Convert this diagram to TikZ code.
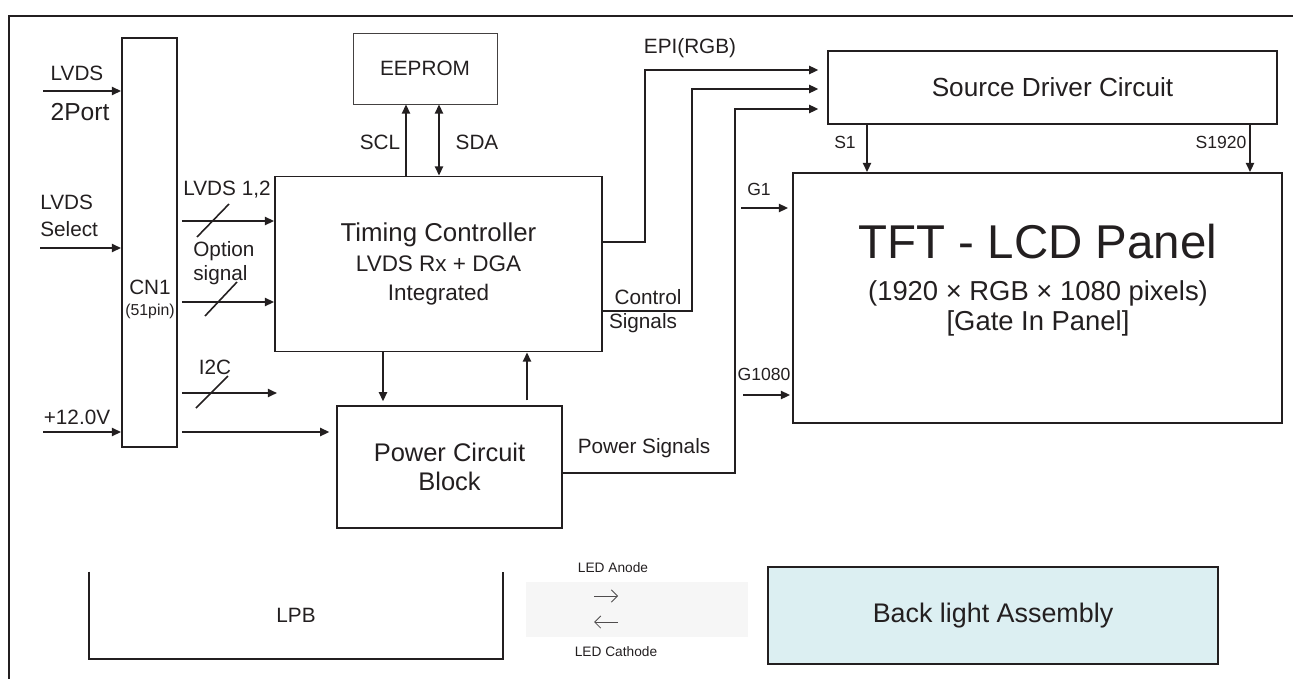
\documentclass[tikz,border=0pt]{standalone}
\usepackage{fontspec}
\setmainfont{Liberation Sans}
\usetikzlibrary{arrows.meta,positioning}
\definecolor{inkgray}{RGB}{35,31,32}
\definecolor{lightcyan}{RGB}{220,239,242}
\definecolor{ledgray}{RGB}{246,246,246}

\begin{document}
\begin{tikzpicture}[
    x=0.02cm, y=-0.02cm,
    sig/.style={-{Triangle[length=5.2pt,width=4.6pt]}, line width=1.1pt, draw=inkgray},
    sigboth/.style={{Triangle[length=5.2pt,width=4.6pt]}-{Triangle[length=5.2pt,width=4.6pt]}, line width=1.1pt, draw=inkgray},
    block/.style={draw=inkgray, line width=1.1pt, inner sep=0pt},
    midblock/.style={draw=inkgray, line width=0.8pt, inner sep=0pt},
    thinblock/.style={draw=inkgray!85, line width=0.5pt, inner sep=0pt},
    tag/.style={font=\fontsize{11.8}{14}\selectfont, text=inkgray, inner sep=0pt, align=center},
    smalltxt/.style={font=\fontsize{10}{12}\selectfont, text=inkgray, inner sep=0pt},
    ledtxt/.style={font=\fontsize{7.8}{9}\selectfont, text=inkgray, inner sep=0pt},
    slash/.style={line width=0.9pt, draw=inkgray},
    ledarrow/.style={-{Straight Barb[length=3.5pt,width=7pt]}, line width=0.5pt, draw=inkgray!80},
    outline/.style={line width=1.6pt, draw=inkgray},
    >=Stealth
]
\useasboundingbox (0,0) rectangle (1293,679);
\draw[outline] (1293,16) -- (9,16) -- (9,679);

\node[block, minimum width=1.1cm, minimum height=8.18cm] (cn1) at (149.5,242.5) {};
\node[tag] (cn1txt) at (150,299) {CN1\\[-2pt]{\fontsize{9}{10}\selectfont (51pin)}};

\node[thinblock, tag, minimum width=2.88cm, minimum height=1.42cm] (eeprom) at (425,68.5) {EEPROM};
\node[block, minimum width=6.54cm, minimum height=3.5cm, align=center, text=inkgray,
      font=\fontsize{12.8}{17}\selectfont] (tcon) at (438.5,264)
      {{\fontsize{14.7}{17}\selectfont Timing Controller}\\LVDS Rx + DGA\\Integrated};
\node[midblock, minimum width=4.5cm, minimum height=2.44cm, align=center, text=inkgray,
      font=\fontsize{14.5}{16.5}\selectfont] (power) at (449.5,467) {Power Circuit\\Block};
\node[midblock, minimum width=8.98cm, minimum height=1.46cm, text=inkgray,
      font=\fontsize{14.9}{17}\selectfont] (source) at (1052.5,87.5) {Source Driver Circuit};
\node[block, minimum width=9.78cm, minimum height=5cm] (panel) at (1037.5,298) {};
\node[tag, font=\fontsize{27}{30}\selectfont] (tfttitle) at (1038,242) {TFT - LCD Panel};
\node[tag, font=\fontsize{15.6}{17}\selectfont] (tftres) at (1038,308) {(1920 × RGB × 1080 pixels)\\{[Gate In Panel]}};
\node[block, fill=lightcyan, minimum width=9cm, minimum height=1.94cm, text=inkgray,
      font=\fontsize{15.3}{17}\selectfont] (backlight) at (993,615.5) {Back light Assembly};

\node[tag, minimum width=8.28cm, minimum height=1.74cm] (lpb) at (296,615.5) {LPB};
\draw[inkgray, line width=1pt] (lpb.north west) |- (lpb.south east) -- (lpb.north east);

\node[fill=ledgray, minimum width=4.44cm, minimum height=1.1cm, inner sep=0pt] (ledzone) at (637,609.5) {};
\node[ledtxt] (anodetxt) at (613,568) {LED Anode};
\node[ledtxt] (cathodetxt) at (616,652) {LED Cathode};
\coordinate (anodeL) at (594,596);
\coordinate (anodeR) at (618,596);
\coordinate (cathodeL) at (594,622);
\coordinate (cathodeR) at (618,622);
\draw[ledarrow] (anodeL) -- (anodeR);
\draw[ledarrow] (cathodeR) -- (cathodeL);

\coordinate (in2port) at (43,91);
\coordinate (inselect) at (40,248);
\coordinate (in12v) at (43,432);
\coordinate (i2cend) at (277,393);
\coordinate (g1in) at (741,208);
\coordinate (g1080in) at (743,395);

\node[tag] (lvdstxt) at (77,73) {LVDS};
\node[tag, font=\fontsize{14}{16}\selectfont] (porttxt) at (80,112) {2Port};
\node[tag, anchor=west, align=left] (selecttxt) at (40,216) {LVDS\\[1.3pt]Select};
\node[tag] (volttxt) at (77,417) {+12.0V};
\draw[sig] (in2port) -- (cn1.west |- in2port);
\draw[sig] (inselect) -- (cn1.west |- inselect);
\draw[sig] (in12v) -- (cn1.west |- in12v);

\node[tag] (lvds12txt) at (227,190) {LVDS 1,2};
\node[tag, anchor=west, align=left] (opttxt) at (193,263) {Option\\signal};
\node[tag] (i2ctxt) at (215,367) {I2C};
\draw[sig, shorten <=0.08cm] (cn1.east |- 0,221) -- (tcon.west |- 0,221);
\draw[sig, shorten <=0.08cm] (cn1.east |- 0,302) -- (tcon.west |- 0,302);
\draw[sig, shorten <=0.08cm] (cn1.east |- i2cend) -- (i2cend);
\draw[sig, shorten <=0.08cm, shorten >=0.14cm] (cn1.east |- 0,432) -- (power.west |- 0,432);
\draw[slash] (197,237) -- (229,204);
\draw[slash] (205,316) -- (237,282);
\draw[slash] (196,408) -- (228,376);

\node[tag] (scltxt) at (380,142) {SCL};
\node[tag] (sdatxt) at (477,142) {SDA};
\draw[sig] (tcon.north -| 406,0) -- (eeprom.south -| 406,0);
\draw[sigboth] (tcon.north -| 439,0) -- (eeprom.south -| 439,0);

\draw[sig, shorten >=0.08cm] (tcon.south -| 383,0) -- (power.north -| 383,0);
\draw[sig, shorten <=0.1cm] (power.north -| 527,0) -- (tcon.south -| 527,0);

\node[tag] (epitxt) at (690,48) {EPI(RGB)};
\node[tag] (ctrltxt) at (648,297) {Control};
\node[tag] (signtxt) at (643,323) {Signals};
\node[tag] (pwrsigtxt) at (644,448) {Power Signals};
\draw[sig, shorten >=0.18cm] (tcon.east |- 0,242) -- ++(42,0) |- (source.west |- 0,70);
\draw[sig, shorten >=0.18cm] (tcon.east |- 0,311) -- ++(89,0) |- (source.west |- 0,89);
\draw[sig, shorten >=0.18cm] (power.east |- 0,473) -- ++(172,0) |- (source.west |- 0,109);

\node[smalltxt] (s1txt) at (845,142) {S1};
\node[smalltxt] (s1920txt) at (1221,142) {S1920};
\draw[sig] (source.south -| 867,0) -- (panel.north -| 867,0);
\draw[sig] (source.south -| 1250,0) -- (panel.north -| 1250,0);

\node[smalltxt] (g1txt) at (759,189) {G1};
\node[smalltxt] (g1080txt) at (764,374) {G1080};
\draw[sig, shorten >=0.08cm] (g1in) -- (panel.west |- g1in);
\draw[sig, shorten >=0.04cm] (g1080in) -- (panel.west |- g1080in);
\end{tikzpicture}
\end{document}
